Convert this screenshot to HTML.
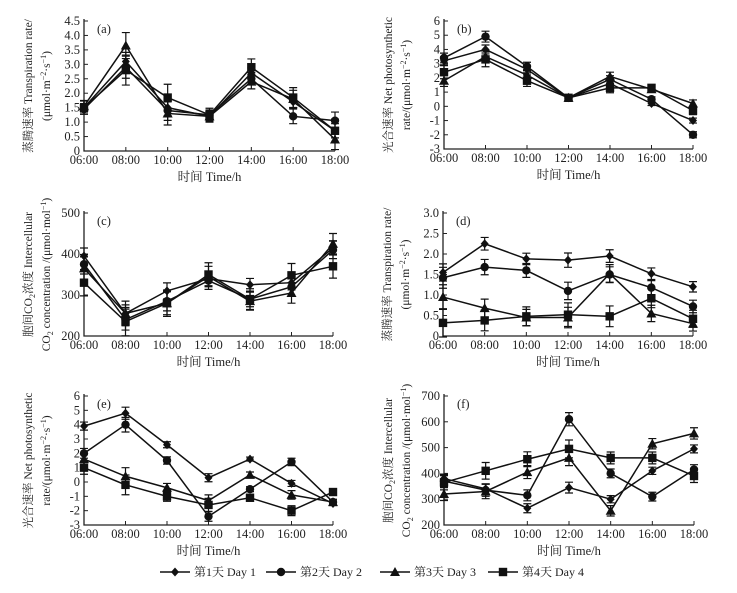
<!DOCTYPE html>
<html><head><meta charset="utf-8"><style>
body{margin:0;background:#fff}
svg text{font-family:"Liberation Serif","Noto Serif CJK SC",serif;fill:#222}
</style></head><body>
<svg id="c" width="737" height="588" xmlns="http://www.w3.org/2000/svg"></svg>
<script>
const times=["06:00","08:00","10:00","12:00","14:00","16:00","18:00"];
const seriesNames=["第1天 Day 1","第2天 Day 2","第3天 Day 3","第4天 Day 4"];
const markers=["diamond","circle","triangle","square"];
const aD1=[1.5,3.1,1.5,1.2,2.7,1.7,0.7];
const aD2=[1.45,2.9,1.4,1.25,2.5,1.2,1.05];
const aD3=[1.55,3.65,1.3,1.2,2.4,1.8,0.4];
const aD4=[1.5,2.8,1.85,1.25,2.9,1.85,0.7];
const aErr=[0.2,0.45,0.4,0.2,0.25,0.3,0.35];
const bD1=[3.2,4.0,2.6,0.6,1.6,0.2,-1.0];
const bD2=[3.4,4.9,2.8,0.6,1.9,0.5,-2.0];
const bD3=[1.8,3.5,2.2,0.6,2.1,1.2,0.2];
const bD4=[2.4,3.3,1.8,0.6,1.3,1.3,-0.3];
const bErr=[0.4,0.45,0.35,0.15,0.3,0.2,0.25];
const cD1=[395,255,310,340,325,330,415];
const cD2=[375,240,285,335,290,320,410];
const cD3=[365,255,280,345,285,305,425];
const cD4=[330,235,280,350,290,348,370];
const cErr=[28,30,28,25,22,25,25];
const dD1=[1.55,2.25,1.88,1.85,1.95,1.52,1.2];
const dD2=[1.42,1.68,1.6,1.1,1.5,1.18,0.72];
const dD3=[0.95,0.68,0.45,0.45,1.52,0.55,0.3];
const dD4=[0.32,0.38,0.48,0.52,0.48,0.92,0.42];
const dErr=[0.3,0.22,0.2,0.25,0.22,0.2,0.18];
const eD1=[3.9,4.8,2.6,0.3,1.6,-0.1,-1.5];
const eD2=[2.0,4.0,1.5,-2.4,-0.5,1.4,-1.4];
const eD3=[1.6,0.4,-0.4,-1.3,0.5,-0.9,-1.4];
const eD4=[1.0,-0.2,-1.0,-1.6,-1.1,-2.0,-0.7];
const eErr=[0.4,0.6,0.3,0.4,0.2,0.3,0.2];
const fD1=[380,340,265,345,300,410,495];
const fD2=[370,335,315,610,400,310,415];
const fD3=[320,330,405,460,255,515,555];
const fD4=[365,410,455,495,460,460,390];
const fErr=[25,28,25,30,20,20,22];
const aTicks=[0,0.5,1.0,1.5,2.0,2.5,3.0,3.5,4.0,4.5];
const bTicks=[-3,-2,-1,0,1,2,3,4,5,6];
const cTicks=[200,300,400,500];
const dTicks=[0,0.5,1.0,1.5,2.0,2.5,3.0];
const eTicks=[-3,-2,-1,0,1,2,3,4,5,6];
const fTicks=[200,300,400,500,600,700];

const svg=document.getElementById('c');
const NS="http://www.w3.org/2000/svg";
function mk(tag,attrs,parent){const e=document.createElementNS(NS,tag);for(const k in attrs)e.setAttribute(k,attrs[k]);(parent||svg).appendChild(e);return e;}
function marker(g,type,x,y){
  let e;
  if(type==="diamond")e=mk('polygon',{points:`${x},${y-4.5} ${x+4},${y} ${x},${y+4.5} ${x-4},${y}`,fill:'#111'},g);
  else if(type==="circle")e=mk('circle',{cx:x,cy:y,r:4.2,fill:'#111'},g);
  else if(type==="triangle")e=mk('polygon',{points:`${x},${y-5} ${x+5},${y+4} ${x-5},${y+4}`,fill:'#111'},g);
  else e=mk('rect',{x:x-4.2,y:y-4.2,width:8.4,height:8.4,fill:'#111'},g);
  return e;
}
function panel(p){
  const g=mk('g',{});
  
  
  const min=p.ticks[0],max=p.ticks[p.ticks.length-1];
  const ys=v=>p.y1+(max-v)/(max-min)*(p.y0-p.y1);
  const xs=i=>p.x0+i*(p.x1-p.x0)/(times.length-1);
  const ax=mk('path',{d:`M${p.x0},${p.y1-2}V${p.y0}H${p.x1}`,stroke:'#222','stroke-width':1.3,fill:'none'},g);
  
  
  p.ticks.forEach(t=>{
    const y=ys(t);
    mk('line',{x1:p.x0,x2:p.x0+4,y1:y,y2:y,stroke:'#222'},g);
    const tx=mk('text',{x:p.x0-4,y:y+4,'text-anchor':'end','font-size':12.5},g);
    tx.textContent=p.fmt?p.fmt(t):String(t);
    
    
  });
  times.forEach((t,i)=>{
    const x=xs(i);
    mk('line',{x1:x,x2:x,y1:p.y0,y2:p.y0-4,stroke:'#222'},g);
    const tx=mk('text',{x:x,y:p.y0+13,'text-anchor':'middle','font-size':12.5},g);
    tx.textContent=t;
    
    
  });
  const xt=mk('text',{x:(p.x0+p.x1)/2,y:p.y0+30,'text-anchor':'middle','font-size':12.5},g);
  xt.textContent="时间 Time/h";
  
  
  const cy=(p.y0+p.y1)/2;
  p.ytitle.forEach((ln,k)=>{
    const x=p.x0-52+k*18;
    const t=mk('text',{x:x,y:cy,'text-anchor':'middle','font-size':11.5,transform:`rotate(-90 ${x} ${cy})`},g);
    t.innerHTML=ln;
    
    
  });
  const lab=mk('text',{x:p.x0+13,y:p.y1+12,'font-size':12.5},g);
  lab.textContent=`(${p.id})`;
  
  
  p.series.forEach((s,si)=>{
    const sg=mk('g',{},g);
    
    
    mk('polyline',{points:s.map((v,i)=>xs(i)+','+ys(v)).join(' '),fill:'none',stroke:'#111','stroke-width':1.5},sg);
    s.forEach((v,i)=>{
      const x=xs(i),e=p.err[i]*(0.7+0.15*si);
      const eb=mk('path',{d:`M${x},${ys(v+e)}V${ys(v-e)}M${x-4},${ys(v+e)}h8M${x-4},${ys(v-e)}h8`,stroke:'#111','stroke-width':1.2,fill:'none'},sg);
      
      
      const m=marker(sg,markers[si],x,ys(v));
      
      
    });
  });
}
const f1=v=>v===0?"0":v.toFixed(1);
const tTitle=["蒸腾速率 Transpiration rate/","(μmol·m<tspan dy='-4' font-size='8'>−2</tspan><tspan dy='4'>·s</tspan><tspan dy='-4' font-size='8'>−1</tspan><tspan dy='4'>)</tspan>"];
const pTitle=["光合速率 Net photosynthetic","rate/(μmol·m<tspan dy='-4' font-size='8'>−2</tspan><tspan dy='4'>·s</tspan><tspan dy='-4' font-size='8'>−1</tspan><tspan dy='4'>)</tspan>"];
const cTitle=["胞间CO<tspan dy='3' font-size='8'>2</tspan><tspan dy='-3'>浓度 Intercellular</tspan>","CO<tspan dy='3' font-size='8'>2</tspan><tspan dy='-3'> concentration /(μmol·mol</tspan><tspan dy='-4' font-size='8'>−1</tspan><tspan dy='4'>)</tspan>"];
panel({id:'a',x0:84,x1:335,y0:151,y1:21,ticks:aTicks,fmt:f1,series:[aD1,aD2,aD3,aD4],err:aErr,ytitle:tTitle});
panel({id:'b',x0:444,x1:693,y0:149,y1:21,ticks:bTicks,series:[bD1,bD2,bD3,bD4],err:bErr,ytitle:pTitle});
panel({id:'c',x0:84,x1:333,y0:336,y1:213,ticks:cTicks,series:[cD1,cD2,cD3,cD4],err:cErr,ytitle:cTitle});
panel({id:'d',x0:443,x1:693,y0:336,y1:213,ticks:dTicks,fmt:f1,series:[dD1,dD2,dD3,dD4],err:dErr,ytitle:tTitle});
panel({id:'e',x0:84,x1:333,y0:525,y1:396,ticks:eTicks,series:[eD1,eD2,eD3,eD4],err:eErr,ytitle:pTitle});
panel({id:'f',x0:444,x1:694,y0:525,y1:396,ticks:fTicks,series:[fD1,fD2,fD3,fD4],err:fErr,ytitle:cTitle});
const lx=[160,266,380,488];
seriesNames.forEach((n,i)=>{
  const g=mk('g',{});
  
  
  mk('line',{x1:lx[i],x2:lx[i]+30,y1:572,y2:572,stroke:'#111','stroke-width':1.5},g);
  marker(g,markers[i],lx[i]+15,572);
  const t=mk('text',{x:lx[i]+34,y:576,'font-size':12},g);
  t.textContent=n;
});
</script>
</body></html>
